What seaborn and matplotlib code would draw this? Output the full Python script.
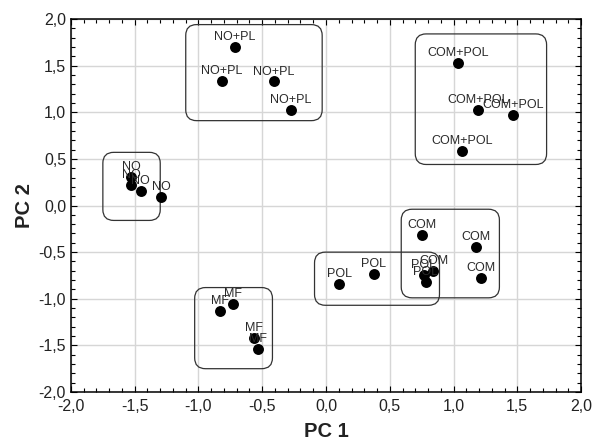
import matplotlib
matplotlib.use("Agg")
import matplotlib.pyplot as plt
from matplotlib.patches import FancyBboxPatch
from matplotlib.ticker import MultipleLocator, FuncFormatter
import pandas as pd
import seaborn as sns

# Scores des échantillons (PC1 / PC2)
groups = ["NO+PL"] * 4 + ["COM+POL"] * 4 + ["NO"] * 4 + ["COM"] * 4 + ["POL"] * 4 + ["MF"] * 4
pc1 = [-0.715, -0.816, -0.409, -0.275,
       1.039, 1.191, 1.465, 1.069,
       -1.530, -1.530, -1.453, -1.292,
       0.754, 1.176, 0.843, 1.218,
       0.103, 0.373, 0.766, 0.784,
       -0.834, -0.730, -0.567, -0.534]
pc2 = [1.697, 1.340, 1.330, 1.023,
       1.533, 1.020, 0.966, 0.588,
       0.307, 0.217, 0.157, 0.093,
       -0.321, -0.442, -0.699, -0.781,
       -0.838, -0.734, -0.749, -0.820,
       -1.127, -1.059, -1.422, -1.537]

# Cadres arrondis autour des groupes (tracés à la main sur l'original)
box_groups = ["NO+PL", "COM+POL", "NO", "COM", "POL", "MF"]
box_x0 = [-1.10, 0.70, -1.75, 0.59, -0.09, -1.03]
box_x1 = [-0.03, 1.73, -1.30, 1.36, 0.89, -0.42]
box_y0 = [0.91, 0.44, -0.16, -0.99, -1.07, -1.75]
box_y1 = [1.94, 1.84, 0.57, -0.04, -0.50, -0.88]

df = pd.DataFrame({"group": groups, "PC1": pc1, "PC2": pc2})

sns.set_style("ticks")
plt.rcParams["font.family"] = ["Liberation Sans", "DejaVu Sans"]

fig = plt.figure(figsize=(5.93, 4.44), dpi=100)
ax = fig.add_axes([0.1197, 0.1171, 0.8601, 0.8401])

sns.scatterplot(data=df, x="PC1", y="PC2", color="black", s=62,
                edgecolor="black", linewidth=0, ax=ax, zorder=4)

for g, x, y in zip(groups, pc1, pc2):
    ax.annotate(g, (x, y), xytext=(0, 5), textcoords="offset points",
                ha="center", va="baseline", fontsize=9, color="#2a2a2a", zorder=5)

ax.set_xlim(-2, 2)
ax.set_ylim(-2, 2)

# rapport px/unité pour garder des coins ronds
aspect = (0.8601 * 593 / 4) / (0.8401 * 444 / 4)
for g, x0, x1, y0, y1 in zip(box_groups, box_x0, box_x1, box_y0, box_y1):
    patch = FancyBboxPatch((x0, y0), x1 - x0, y1 - y0,
                           boxstyle="round,pad=0,rounding_size=0.085",
                           mutation_aspect=aspect, fill=False,
                           edgecolor="#333333", linewidth=0.9, zorder=3)
    ax.add_patch(patch)

ax.xaxis.set_major_locator(MultipleLocator(0.5))
ax.yaxis.set_major_locator(MultipleLocator(0.5))
ax.xaxis.set_minor_locator(MultipleLocator(0.1))
ax.yaxis.set_minor_locator(MultipleLocator(0.1))
fmt = FuncFormatter(lambda v, pos: f"{v:.1f}".replace(".", ","))
ax.xaxis.set_major_formatter(fmt)
ax.yaxis.set_major_formatter(fmt)

ax.tick_params(which="both", direction="in", top=True, right=True,
               color="black", width=0.8)
ax.tick_params(which="major", length=4, labelsize=11.5, labelcolor="#222222")
ax.tick_params(which="minor", length=3)
ax.tick_params(axis="x", which="major", pad=5)

ax.grid(True, which="major", color="#d6d6d6", linewidth=1.0, zorder=0)
ax.set_axisbelow(True)
for sp in ax.spines.values():
    sp.set_color("black")
    sp.set_linewidth(1.1)

ax.set_xlabel("PC 1", fontsize=14.5, fontweight="bold", color="#222222", labelpad=6)
ax.set_ylabel("PC 2", fontsize=14.5, fontweight="bold", color="#222222", labelpad=3)

fig.savefig("out.png", dpi=100)
